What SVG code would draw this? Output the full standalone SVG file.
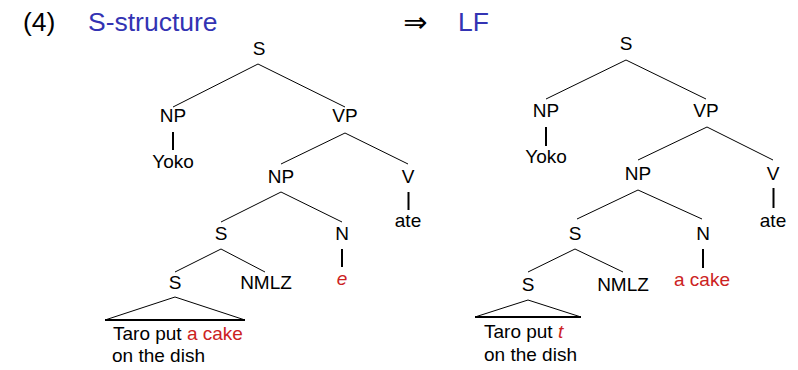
<svg xmlns="http://www.w3.org/2000/svg" width="798" height="370" viewBox="0 0 798 370">
  <style>
    .lbl { font-family: "Liberation Sans", Arial, sans-serif; font-size: 19px; fill: #000; }
    .mid { text-anchor: middle; }
    .title { font-family: "Liberation Sans", Arial, sans-serif; font-size: 26.5px; fill: #000; }
    .blue { fill: #3333b3; }
    .red { fill: #cc2222; }
    .it { font-style: italic; }
    .edge { stroke: #000; stroke-width: 1; fill: none; }
    .unary { stroke: #000; stroke-width: 2; fill: none; }
  </style>
  <rect width="798" height="370" fill="#fff"/>

  <!-- heading -->
  <g id="heading">
    <text class="title" x="23" y="31">(4)</text>
    <text class="title blue" x="88" y="31">S-structure</text>
    <text x="415.5" y="32" text-anchor="middle" font-family="DejaVu Sans, sans-serif" font-size="29">⇒</text>
    <text class="title blue" x="458" y="31">LF</text>
  </g>

  <!-- branches, left tree (S-structure) -->
  <g id="connectors-left">
    <path class="edge" d="M258 64 L173 107 M258 64 L345 107"/>
    <path class="unary" d="M173 132 V150"/>
    <path class="edge" d="M345 133 L281 164 M345 133 L408 164"/>
    <path class="unary" d="M408.5 192 V210"/>
    <path class="edge" d="M281 192 L221 222 M281 192 L342 222"/>
    <path class="unary" d="M342 249 V267"/>
    <path class="edge" d="M221 249 L175 272 M221 249 L265 272"/>
    <path class="edge" d="M105 320 L175 297 L245 320"/>
    <path class="unary" d="M105 320 H245"/>
  </g>

  <!-- branches, right tree (LF) -->
  <g id="connectors-right">
    <path class="edge" d="M626 60 L546 99 M626 60 L706 99"/>
    <path class="unary" d="M546 127 V146"/>
    <path class="edge" d="M707 127 L638 160 M707 127 L773 160"/>
    <path class="unary" d="M773.5 188 V208"/>
    <path class="edge" d="M638 190 L577 219 M638 190 L702 219"/>
    <path class="unary" d="M703 249 V268"/>
    <path class="edge" d="M575 249 L528 272 M575 249 L623 272"/>
    <path class="edge" d="M475 317 L528 300 L581 317"/>
    <path class="unary" d="M475 317 H581"/>
  </g>

  <!-- nodes, left tree -->
  <g id="L-S"><text class="lbl mid" x="259" y="55">S</text></g>
  <g id="L-NP"><text class="lbl mid" x="173" y="122">NP</text></g>
  <g id="L-Yoko"><text class="lbl mid" x="173" y="168">Yoko</text></g>
  <g id="L-VP"><text class="lbl mid" x="345" y="122">VP</text></g>
  <g id="L-NP2"><text class="lbl mid" x="281" y="183">NP</text></g>
  <g id="L-V"><text class="lbl mid" x="408" y="183">V</text></g>
  <g id="L-ate"><text class="lbl mid" x="408" y="227">ate</text></g>
  <g id="L-S2"><text class="lbl mid" x="221" y="240">S</text></g>
  <g id="L-N"><text class="lbl mid" x="342" y="240">N</text></g>
  <g id="L-e"><text class="lbl mid red it" x="342" y="285">e</text></g>
  <g id="L-S3"><text class="lbl mid" x="175" y="289">S</text></g>
  <g id="L-NMLZ"><text class="lbl mid" x="266" y="289">NMLZ</text></g>
  <g id="L-clause">
    <text class="lbl" x="113" y="340">Taro put <tspan class="red">a cake</tspan></text>
    <text class="lbl" x="112" y="362">on the dish</text>
  </g>

  <!-- nodes, right tree -->
  <g id="R-S"><text class="lbl mid" x="626" y="50">S</text></g>
  <g id="R-NP"><text class="lbl mid" x="546" y="117">NP</text></g>
  <g id="R-Yoko"><text class="lbl mid" x="546" y="163">Yoko</text></g>
  <g id="R-VP"><text class="lbl mid" x="706" y="117">VP</text></g>
  <g id="R-NP2"><text class="lbl mid" x="638" y="180">NP</text></g>
  <g id="R-V"><text class="lbl mid" x="773" y="180">V</text></g>
  <g id="R-ate"><text class="lbl mid" x="773" y="227">ate</text></g>
  <g id="R-S2"><text class="lbl mid" x="575" y="240">S</text></g>
  <g id="R-N"><text class="lbl mid" x="703" y="240">N</text></g>
  <g id="R-acake"><text class="lbl mid red" x="702" y="286">a cake</text></g>
  <g id="R-S3"><text class="lbl mid" x="528" y="291">S</text></g>
  <g id="R-NMLZ"><text class="lbl mid" x="623" y="291">NMLZ</text></g>
  <g id="R-clause">
    <text class="lbl" x="484" y="338">Taro put <tspan class="red it">t</tspan></text>
    <text class="lbl" x="484" y="361">on the dish</text>
  </g>
</svg>
